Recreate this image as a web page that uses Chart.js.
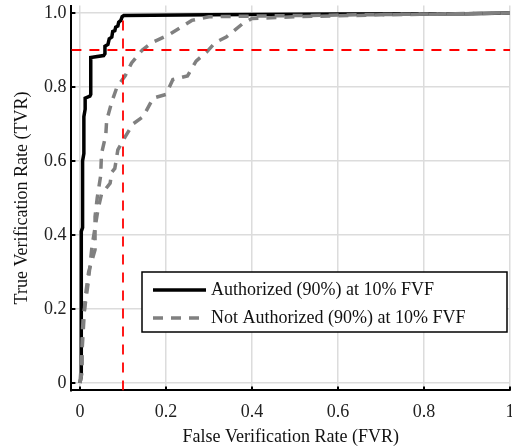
<!DOCTYPE html>
<html>
<head>
<meta charset="utf-8">
<script src="https://cdn.jsdelivr.net/npm/chart.js@4/dist/chart.umd.min.js"></script>
<style>
  html, body { margin: 0; padding: 0; background: #fff; }
  #wrap { width: 512px; height: 448px; }
</style>
</head>
<body>
<div id="wrap"><canvas id="roc"></canvas></div>
<script>
// tick labels
const xTicks = [0, 0.2, 0.4, 0.6, 0.8, 1];
const yTicks = [0, 0.2, 0.4, 0.6, 0.8, 1.0];

// series: [FVR, TVR]
const authorized = [
  [0, 0], [0.003, 0.02], [0.003, 0.41], [0.006, 0.42], [0.006, 0.60],
  [0.009, 0.62], [0.009, 0.72], [0.012, 0.74], [0.012, 0.77], [0.023, 0.775],
  [0.025, 0.78], [0.025, 0.88], [0.055, 0.885], [0.058, 0.89], [0.058, 0.91],
  [0.065, 0.915], [0.068, 0.93], [0.074, 0.935], [0.076, 0.95], [0.081, 0.952],
  [0.083, 0.962], [0.088, 0.965], [0.09, 0.975], [0.095, 0.98], [0.098, 0.99],
  [0.102, 0.993], [0.3, 0.995], [0.6, 0.997], [0.9, 0.998], [1, 1]
];
const notAuthorizedA = [
  [0, 0], [0.003, 0.05], [0.008, 0.15], [0.012, 0.23], [0.02, 0.3],
  [0.035, 0.36], [0.035, 0.45], [0.04, 0.5], [0.048, 0.56], [0.05, 0.62],
  [0.06, 0.67], [0.062, 0.71], [0.074, 0.76], [0.086, 0.8], [0.105, 0.83],
  [0.12, 0.865], [0.145, 0.9], [0.167, 0.92], [0.205, 0.94], [0.233, 0.96],
  [0.26, 0.98], [0.3, 0.99], [0.5, 0.993], [1, 1]
];
const notAuthorizedB = [
  [0, 0], [0.005, 0.03], [0.005, 0.12], [0.007, 0.17], [0.019, 0.27],
  [0.028, 0.37], [0.042, 0.47], [0.05, 0.51], [0.07, 0.54], [0.074, 0.57],
  [0.081, 0.58], [0.088, 0.63], [0.105, 0.665], [0.123, 0.7], [0.147, 0.72],
  [0.17, 0.77], [0.2, 0.78], [0.216, 0.82], [0.25, 0.83], [0.27, 0.87],
  [0.295, 0.895], [0.314, 0.92], [0.34, 0.935], [0.377, 0.97], [0.4, 0.985],
  [0.5, 0.99], [0.7, 0.995], [1, 1]
];
// operating point guides
const fvrLimit = [[0.1, -0.02], [0.1, 1.0]];
const tvrLimit = [[-0.02, 0.9], [1, 0.9]];

const toXY = arr => arr.map(p => ({ x: p[0], y: p[1] }));
const serif = "'Liberation Serif', 'Times New Roman', serif";

// keep the tick labels from pushing the plot area inwards
const noLabelPadding = s => {
  s.paddingTop = 0; s.paddingBottom = 0; s.paddingLeft = 0; s.paddingRight = 0;
};

// inward tick marks + boxed legend inside the plot
const extras = {
  id: "extras",
  afterDraw(chart) {
    const ctx = chart.ctx;
    const a = chart.chartArea;
    const xs = chart.scales.x, ys = chart.scales.y;
    ctx.save();
    ctx.strokeStyle = "#000";
    ctx.lineWidth = 2;
    xTicks.forEach(v => {
      const px = xs.getPixelForValue(v);
      ctx.beginPath(); ctx.moveTo(px, a.bottom); ctx.lineTo(px, a.bottom - 4); ctx.stroke();
    });
    yTicks.forEach(v => {
      const py = ys.getPixelForValue(v);
      ctx.beginPath(); ctx.moveTo(a.left, py); ctx.lineTo(a.left + 4, py); ctx.stroke();
    });

    // legend
    const bx = 142, by = 272, bw = 365, bh = 60;
    ctx.fillStyle = "#fff";
    ctx.fillRect(bx, by, bw, bh);
    ctx.lineWidth = 1.5;
    ctx.strokeRect(bx, by, bw, bh);
    const items = chart.data.datasets
      .filter(d => d.legendRank)
      .sort((p, q) => p.legendRank - q.legendRank);
    items.forEach((d, i) => {
      const y = by + 18 + i * 28;
      ctx.beginPath();
      ctx.setLineDash(d.borderDash || []);
      ctx.strokeStyle = d.borderColor;
      ctx.lineWidth = d.borderWidth;
      ctx.moveTo(bx + 11, y); ctx.lineTo(bx + 64, y);
      ctx.stroke();
      ctx.setLineDash([]);
      ctx.fillStyle = "#111";
      ctx.font = "18px " + serif;
      ctx.textBaseline = "middle";
      ctx.fillText(d.label, bx + 69, y);
    });
    ctx.restore();
  }
};

new Chart(document.getElementById("roc").getContext("2d"), {
  type: "line",
  data: {
    datasets: [
      { label: "red1", data: toXY(fvrLimit), borderColor: "#ff0000", borderWidth: 1.8, borderDash: [10, 8], order: 0 },
      { label: "red2", data: toXY(tvrLimit), borderColor: "#ff0000", borderWidth: 1.8, borderDash: [10, 8], order: 0 },
      { label: "Not Authorized (90%) at 10% FVF", data: toXY(notAuthorizedA), borderColor: "#808080", borderWidth: 3.5, borderDash: [10, 8], order: 1, legendRank: 2 },
      { label: "Not Authorized B", data: toXY(notAuthorizedB), borderColor: "#808080", borderWidth: 3.5, borderDash: [10, 8], order: 1 },
      { label: "Authorized (90%) at 10% FVF", data: toXY(authorized), borderColor: "#000000", borderWidth: 3.5, order: 2, legendRank: 1 }
    ]
  },
  options: {
    responsive: true,
    maintainAspectRatio: false,
    animation: false,
    elements: { point: { radius: 0 }, line: { tension: 0, fill: false } },
    layout: { autoPadding: false, padding: { top: 5.6, right: 2, left: 0, bottom: 0 } },
    plugins: { legend: { display: false }, tooltip: { enabled: false } },
    scales: {
      x: {
        type: "linear",
        min: -0.02,
        max: 1,
        afterBuildTicks: s => { s.ticks = xTicks.map(v => ({ value: v })); },
        afterFit: s => { s.height = 57.6; noLabelPadding(s); },
        ticks: {
          padding: 11,
          color: "#222",
          font: { family: serif, size: 18 },
          callback: v => (v === 0 || v === 1) ? String(v) : v.toFixed(1)
        },
        grid: { color: "#dcdcdc", lineWidth: 1.5, drawTicks: false },
        border: { color: "#000", width: 2 },
        title: { display: true, text: "False Verification Rate (FVR)", color: "#111", font: { family: serif, size: 18 }, padding: 0 }
      },
      y: {
        type: "linear",
        min: -0.02,
        max: 1.02,
        afterBuildTicks: s => { s.ticks = yTicks.map(v => ({ value: v })); },
        afterFit: s => { s.width = 71.4; noLabelPadding(s); },
        ticks: {
          padding: 5,
          color: "#222",
          font: { family: serif, size: 18 },
          callback: v => v === 0 ? "0" : v.toFixed(1)
        },
        grid: { color: "#dcdcdc", lineWidth: 1.5, drawTicks: false },
        border: { color: "#000", width: 2 },
        title: { display: true, text: "True Verification Rate (TVR)", color: "#111", font: { family: serif, size: 18 }, padding: { top: 11, bottom: 0 } }
      }
    }
  },
  plugins: [extras]
});
</script>
</body>
</html>
